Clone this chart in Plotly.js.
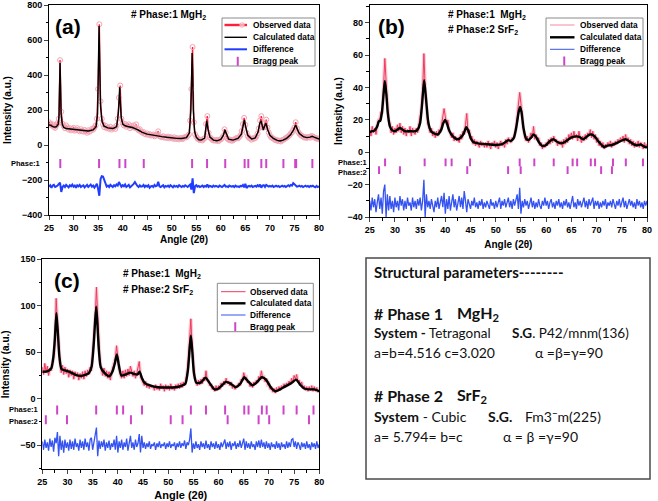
<!DOCTYPE html>
<html><head><meta charset="utf-8">
<script src="https://cdn.plot.ly/plotly-3.0.1.min.js"></script>
<style>html,body{margin:0;padding:0;background:#fff}</style>
</head><body><div id="chart" style="width:658px;height:501px"></div>
<script>
// ---------------- Panel (a): MgH2 ----------------
const calcA_x = [25,25.5,26,26.5,26.9,27.05,27.15,27.25,27.35,27.45,27.7,28,28.5,29,30,31,32,33,34,34.6,34.9,35.05,35.2,35.35,35.5,35.8,36.2,37,38,38.8,39.15,39.3,39.4,39.5,39.7,40,40.5,41,42,43,44,45,46,47,48,49,50,51,52,53,53.6,53.9,54.05,54.15,54.25,54.4,54.65,55,55.5,56,56.7,56.95,57.15,57.35,57.8,58.5,59.2,60,60.5,60.85,61.15,61.6,62.5,63.5,64.2,64.55,64.8,65.05,65.5,66.3,67,67.6,67.95,68.2,68.45,68.65,68.95,69.2,69.5,70,70.7,71.5,72.05,72.7,73.4,74.2,74.8,75.05,75.25,75.5,76,76.8,77.5,78.2,78.6,79,79.5,80];
const calcA_y = [116,108,102,104,118,170,330,470,330,180,118,100,94,92,88,86,82,80,86,105,180,380,680,420,220,135,108,98,94,105,190,270,330,260,160,120,110,106,100,88,72,62,56,52,48,44,40,38,37,42,70,200,380,525,420,200,80,45,30,28,40,90,138,95,45,28,24,32,55,86,60,33,28,38,62,110,143,105,55,34,40,75,125,137,105,86,110,124,90,55,38,26,23,28,38,58,85,105,114,95,65,48,42,45,50,45,38,34];
// observed & difference: 25 to 80 every 0.25 deg
const obsA = [130,122,112,118, 104,98,112,125, 150,485,190,122, 108,96,112,100, 88,96,84,92, 98,82,86,96, 84,78,90,80, 76,86,78,70, 84,76,82,92, 88,100,112,150, 320,690,250,150, 118,102,110,96, 100,92,104,88, 96,100,92,110, 150,270,340,150, 125,112,120,104, 110,118,96,108, 102,112,98,118, 92,84,90,76, 70,74,64,60, 66,58,62,54, 56,60,50,54, 60,78,50,48, 44,50,42,46, 40,48,38,44, 42,36,44,34, 40,36,32,40, 38,34,42,46, 44,52,60,140, 320,560,130,62, 48,36,32,28, 30,26,34,40, 120,165,70,44, 38,30,26,28, 24,30,22,28, 32,40,52,90, 70,40,32,28, 30,24,28,32, 36,40,38,46, 55,80,120,155, 115,70,50,40, 36,30,38,36, 40,48,66,95, 140,165,100,100, 125,145,100,72, 55,44,40,36, 30,26,28,22, 24,20,28,30, 34,40,44,50, 56,66,72,86, 100,130,95,75, 65,58,52,48, 42,46,40,44, 46,42,52,48, 44,40,36,38, 32];
const diffA = [-238,-230,-245,-232, -228,-240,-236,-232, -222,-215,-268,-240, -232,-240,-228,-236, -242,-230,-236,-226, -238,-232,-244,-230, -236,-228,-240,-234, -230,-242,-236,-228, -240,-234,-226,-238, -232,-244,-230,-222, -250,-290,-195,-178, -180,-200,-222,-238, -232,-240,-228,-236, -240,-230,-236,-226, -232,-212,-225,-238, -230,-236,-226,-240, -234,-228,-242,-236, -230,-222,-212,-226, -234,-240,-230,-238, -236,-228,-240,-232, -238,-230,-244,-236, -234,-240,-228,-236, -232,-210,-236,-240, -236,-230,-242,-234, -238,-232,-240,-230, -236,-242,-232,-238, -234,-240,-230,-236, -240,-234,-238,-230, -236,-240,-232,-226, -255,-190,-275,-236, -230,-238,-234,-240, -236,-232,-240,-234, -238,-225,-240,-234, -236,-240,-232,-238, -234,-238,-240,-232, -236,-240,-234,-228, -238,-236,-240,-232, -236,-238,-234,-240, -232,-238,-236,-240, -234,-236,-228,-242, -222,-246,-236,-234, -238,-232,-240,-236, -234,-238,-230,-236, -226,-244,-232,-230, -240,-228,-236,-238, -234,-238,-232,-240, -236,-232,-238,-234, -240,-236,-232,-238, -234,-240,-236,-230, -236,-228,-232,-218, -224,-230,-238,-236, -232,-238,-234,-240, -236,-232,-238,-234, -240,-234,-236,-232, -238,-242,-234,-240, -236];
const braggA1 = [27.3,35.2,39.35,40.55,44.3,54.15,57.2,60.9,64.85,65.6,68.25,69.25,72.75,75.15,75.35,78.65];

// ---------------- Panel (b): MgH2 + SrF2 ----------------
const calcB_x = [25,25.5,26,26.5,26.8,27.1,27.4,27.7,28,28.3,28.6,29,29.5,30,30.5,31,31.5,32,33,34,34.5,35,35.4,35.8,36.2,36.6,37,37.5,38.5,39.2,39.6,39.95,40.3,40.7,41.2,41.8,42.5,43.2,43.7,44.15,44.6,45,45.5,46.5,48,50,51.3,52,52.5,53,53.6,54.1,54.5,54.8,55.1,55.5,56,56.5,57,57.5,58,58.6,59.3,60,60.6,61.4,62.3,63,63.8,64.5,65.3,66,66.6,67.3,68,68.5,69,69.6,70.3,71,71.5,72,73,73.8,74.5,75.2,75.8,76.5,77.3,78,78.7,79.2,79.7,80];
const calcB_y = [12.5,13,13.5,16,19,19.5,24,34,44,36,24,16,13.5,13,14,15,14,13,13,13,14,18,30,44.5,32,19,14,12,11,14,18,20,18,14,11,9,8,9.5,12,15.5,13,9,6.5,5.5,5,4.5,5,6.5,7.5,7,9,16,24,28,25,15,8.5,7.5,9,11,9.5,6,3.8,4.5,6.5,8,6.2,5.5,6.5,8.2,9.5,9.8,9.5,8,9.5,10.8,11,9.8,7,4.5,3.2,4,4.5,5.5,6.5,7.5,8,6.8,5,4.2,4.8,4,3.2,3];
const obsB = [14,10,16,12, 15,11,17,20, 20,25,24,40, 58,44,26,20, 18,12,16,11, 15,12,17,13, 18,12,16,11, 15,10,14,12, 16,10,15,12, 11,15,12,17, 21,27,38,61, 40,30,18,16, 12,15,10,13, 9,13,10,14, 12,17,21,27, 22,17,20,13, 12,9,12,7, 10,7,9,6, 11,8,13,11, 17,24,12,14, 8,10,5,8, 4,7,5,3, 7,4,6,3, 6,3,7,4, 2,6,4,7, 3,6,2,5, 7,4,6,3, 8,5,9,7, 6,9,8,11, 14,22,29,37, 30,21,14,10, 7,10,6,9, 12,9,16,8, 11,7,9,4, 6,2,5,3, 6,4,8,5, 9,6,10,7, 8,4,7,5, 7,3,8,5, 9,6,11,8, 12,8,13,9, 11,7,13,9, 6,10,7,11, 8,12,10,14, 9,13,8,11, 6,9,4,7, 3,6,2,5, 3,6,4,7, 3,6,4,7, 5,8,6,9, 7,10,6,11, 7,9,5,8, 4,7,3,6, 4,7,3,6, 5,2,6,3, 5];
const diffB = [-30,-36,-28,-34, -29,-37,-31,-26, -35,-28,-38,-24, -20,-40,-26,-36, -27,-35,-30,-37, -28,-34,-30,-36, -27,-33,-29,-36, -30,-35,-28,-33, -31,-36,-28,-34, -30,-35,-29,-33, -28,-36,-30,-17, -40,-26,-34,-30, -35,-29,-33,-37, -30,-34,-28,-35, -31,-27,-34,-25, -38,-29,-35,-27, -36,-30,-26,-34, -29,-36,-31,-27, -34,-28,-35,-24, -30,-37,-29,-33, -35,-30,-33,-28, -34,-31,-35,-30, -33,-29,-35,-31, -34,-30,-32,-35, -29,-33,-31,-35, -30,-34,-31,-28, -35,-30,-33,-29, -34,-31,-28,-34, -30,-35,-29,-33, -30,-26,-35,-22, -38,-30,-34,-29, -33,-30,-35,-31, -28,-34,-30,-35, -31,-34,-29,-33, -35,-30,-33,-28, -33,-30,-35,-31, -29,-34,-31,-35, -30,-33,-29,-34, -31,-35,-30,-33, -29,-34,-31,-35, -30,-27,-34,-31, -35,-29,-33,-30, -34,-31,-28,-34, -30,-35,-29,-33, -31,-28,-35,-30, -33,-30,-35,-31, -34,-30,-33,-29, -35,-31,-33,-30, -34,-29,-32,-35, -30,-33,-29,-34, -31,-28,-34,-30, -35,-31,-29,-33, -30,-34,-31,-35, -29,-33,-30,-34, -31,-35,-30,-33, -30];
const braggB1 = [28.05,35.9,40.05,41.25,44.9,54.75,57.65,61.5,65.25,66.15,68.85,69.7,73.25,75.8,79.2];
const braggB2 = [26.85,31.0,44.35,52.45,54.95,64.25,70.9,73.05];

// ---------------- Panel (c): MgH2 + SrF2 ----------------
const calcC_x = [25,26,26.8,27.2,27.5,27.8,28.1,28.4,28.8,29.5,30.5,31.5,32.5,33.5,34.3,34.8,35.2,35.45,35.7,35.95,36.2,36.6,37.3,38.3,39,39.4,39.8,40.2,40.7,41.5,42.5,43.3,43.9,44.3,44.8,45.3,46.5,48,50,51.5,52.5,53.4,53.9,54.2,54.5,54.8,55.1,55.6,56.5,57.4,58.2,59.2,60,60.8,61.4,62.3,63.4,64.3,65.1,65.8,66.7,67.5,68.6,69.5,70.4,71.3,72.2,73.3,74.4,75.4,76.2,77,78,79,80];
const calcC_y = [29,29.5,33,45,65,92,70,45,32,30.5,28.5,26,24.5,25.5,28,35,58,80,99,80,55,34,28,24,30,38,47.5,36,25,26,28,26.5,26,29,22,17,14,12.3,12,12.3,13.5,16,30,50,68,50,28,17,17.5,22.5,17,10,11,15,18,16.5,12.3,16,23,19,14.5,17,23,20,12,8,10,13.5,16.5,20.5,15,11,10,10,8];
const obsC = [34,26,38,28, 35,25,33,30, 38,44,58,108, 82,55,40,28, 36,26,34,27, 32,23,31,25, 30,21,29,24, 28,20,27,22, 29,21,30,24, 31,26,34,30, 48,60,86,120, 82,58,38,32, 25,33,24,30, 22,29,20,28, 34,36,44,57, 40,32,26,22, 30,22,31,24, 32,25,35,28, 24,30,22,27, 32,40,24,20, 18,14,19,12, 16,11,15,12, 14,9,15,10, 13,9,16,11, 14,8,15,10, 14,9,16,10, 13,9,15,11, 16,11,17,12, 18,14,20,28, 42,62,86,55, 34,22,20,14, 20,15,21,16, 23,19,30,20, 19,14,16,10, 13,8,14,9, 14,10,17,13, 19,15,22,16, 19,14,18,11, 15,10,14,12, 17,14,21,19, 28,22,23,17, 19,13,17,12, 18,15,20,17, 24,21,30,22, 23,18,22,15, 16,10,13,7, 11,6,12,8, 13,9,14,11, 16,12,17,14, 19,15,22,17, 25,21,26,18, 20,14,18,11, 14,9,13,8, 13,9,14,8, 13,8,12,7, 10];
const diffC = [-46,-55,-44,-53, -47,-56,-43,-52, -45,-57,-42,-48, -36,-62,-40,-55, -45,-58,-44,-53, -47,-56,-44,-54, -46,-55,-43,-52, -48,-56,-44,-53, -46,-55,-43,-52, -47,-56,-44,-42, -55,-48,-38,-31, -62,-45,-54,-46, -52,-44,-56,-47, -53,-45,-55,-48, -52,-44,-55,-40, -58,-46,-53,-44, -55,-47,-52,-43, -56,-45,-40,-53, -47,-55,-44,-52, -48,-38,-58,-40, -53,-47,-54,-48, -52,-46,-54,-49, -51,-47,-55,-48, -52,-46,-53,-49, -51,-47,-54,-48, -52,-46,-53,-49, -51,-47,-55,-48, -52,-46,-53,-48, -51,-45,-54,-47, -50,-44,-32,-58, -48,-54,-46,-53, -49,-55,-46,-52, -48,-54,-45,-53, -49,-55,-46,-52, -48,-54,-46,-53, -49,-55,-47,-52, -48,-44,-54,-47, -52,-46,-55,-48, -51,-46,-54,-48, -52,-45,-53,-47, -43,-55,-46,-53, -48,-54,-46,-52, -49,-55,-46,-52, -45,-53,-44,-52, -47,-54,-46,-53, -48,-55,-47,-52, -49,-54,-46,-53, -48,-55,-47,-52, -49,-54,-46,-53, -47,-52,-44,-43, -52,-46,-54,-47, -50,-55,-47,-52, -48,-54,-46,-53, -49,-55,-47,-52, -48,-54,-46,-53, -49];
const braggC1 = [27.95,35.7,39.8,41.05,44.8,54.5,57.5,61.3,65.1,65.95,68.6,69.55,72.9,75.5,78.85];
const braggC2 = [25.7,29.9,42.6,50.5,52.85,61.8,67.95,70.05,77.95];

const legendLabels = ['Observed data','Calculated data','Difference','Bragg peak'];
const angleTitle = 'Angle (2θ)';
const intensityTitle = 'Intensity (a.u.)';

// ---------------- drawing ----------------
const W = 658, H = 501;
const px = v => v / W, py = v => 1 - v / H;
const FB = '"Liberation Sans", Arial, sans-serif';
const FL = 'Lato, "Open Sans", sans-serif';
const RED = '#ff1f3a', PINK = '#f3a3b3', BLUE = '#1f3cff', MAG = '#cf45c9';
const OBS = '#f03a5c', HALO = 'rgba(245,140,165,0.45)', DBLUE = '#3553f0';

function tickRow(xs, level, xa, ya, size) {
  return {x: xs, y: xs.map(() => level), xaxis: xa, yaxis: ya, mode: 'markers', hoverinfo: 'skip',
    marker: {symbol: 'line-ns', size: size, color: MAG, line: {color: MAG, width: 2}}};
}

const traces = [
  // (a)
  {y: obsA, x0: 25, dx: 0.25, xaxis: 'x', yaxis: 'y', mode: 'lines+markers',
   line: {color: RED, width: 1.4}, marker: {symbol: 'circle-open', size: 5, color: PINK, line: {width: 1, color: PINK}}},
  {x: calcA_x, y: calcA_y, xaxis: 'x', yaxis: 'y', mode: 'lines', line: {color: '#000', width: 1.4}},
  {y: diffA, x0: 25, dx: 0.25, xaxis: 'x', yaxis: 'y', mode: 'lines', line: {color: BLUE, width: 2}},
  tickRow(braggA1, -106, 'x', 'y', 6.5),
  // (b)
  {y: obsB, x0: 25, dx: 0.25, xaxis: 'x2', yaxis: 'y2', mode: 'lines', line: {color: HALO, width: 3.5}},
  {y: obsB, x0: 25, dx: 0.25, xaxis: 'x2', yaxis: 'y2', mode: 'lines', line: {color: OBS, width: 1}},
  {x: calcB_x, y: calcB_y, xaxis: 'x2', yaxis: 'y2', mode: 'lines', line: {color: '#000', width: 2.4, shape: 'spline', smoothing: 0.6}},
  {y: diffB, x0: 25, dx: 0.25, xaxis: 'x2', yaxis: 'y2', mode: 'lines', line: {color: DBLUE, width: 1.3}},
  tickRow(braggB1, -6.3, 'x2', 'y2', 5.5),
  tickRow(braggB2, -11, 'x2', 'y2', 5.5),
  // (c)
  {y: obsC, x0: 25, dx: 0.25, xaxis: 'x3', yaxis: 'y3', mode: 'lines', line: {color: HALO, width: 3.5}},
  {y: obsC, x0: 25, dx: 0.25, xaxis: 'x3', yaxis: 'y3', mode: 'lines', line: {color: OBS, width: 1}},
  {x: calcC_x, y: calcC_y, xaxis: 'x3', yaxis: 'y3', mode: 'lines', line: {color: '#000', width: 2.4, shape: 'spline', smoothing: 0.6}},
  {y: diffC, x0: 25, dx: 0.25, xaxis: 'x3', yaxis: 'y3', mode: 'lines', line: {color: DBLUE, width: 1.3}},
  tickRow(braggC1, -12.2, 'x3', 'y3', 6.5),
  tickRow(braggC2, -22.7, 'x3', 'y3', 6.5)
];

function xax(d0, d1, anchor, titleSize, standoff) {
  return {domain: [px(d0), px(d1)], anchor: anchor, range: [25, 80], dtick: 5, tick0: 25,
    showline: true, linecolor: '#000', linewidth: 1, mirror: true, ticks: 'outside', ticklen: 4, tickwidth: 1,
    minor: {dtick: 2.5, ticks: 'outside', ticklen: 2.5, tickcolor: '#000'},
    showgrid: false, zeroline: false, tickfont: {family: FB, size: 9, weight: 'bold', color: '#000'},
    title: {text: angleTitle, font: {family: FB, size: titleSize, weight: 'bold', color: '#000'}, standoff: standoff}};
}
function yax(d0, d1, anchor, range, dtick, minor, standoff) {
  return {domain: [py(d1), py(d0)], anchor: anchor, range: range, dtick: dtick, tick0: 0,
    showline: true, linecolor: '#000', linewidth: 1, mirror: true, ticks: 'outside', ticklen: 4, tickwidth: 1,
    minor: {dtick: minor, ticks: 'outside', ticklen: 2.5, tickcolor: '#000'},
    showgrid: false, zeroline: false, tickfont: {family: FB, size: 9, weight: 'bold', color: '#000'},
    title: {text: intensityTitle, font: {family: FB, size: 10, weight: 'bold', color: '#000'}, standoff: standoff}};
}

const shapes = [], annotations = [];
function txt(text, x, y, size, opts) {
  annotations.push(Object.assign({text: text, xref: 'paper', yref: 'paper', x: px(x), y: py(y),
    showarrow: false, xanchor: 'left', yanchor: 'middle',
    font: {family: FB, size: size, weight: 'bold', color: '#000'}}, opts || {}));
}
function legendBox(b) {
  shapes.push({type: 'rect', xref: 'paper', yref: 'paper', x0: px(b.x0), x1: px(b.x1), y0: py(b.y1), y1: py(b.y0),
    line: {color: '#8a8a8a', width: 1}, fillcolor: 'rgba(255,255,255,0)'});
  const r = b.rows;
  const ln = (y, color, w) => shapes.push({type: 'line', xref: 'paper', yref: 'paper', x0: px(b.s0), x1: px(b.s1),
    y0: py(y), y1: py(y), line: {color: color, width: w}});
  ln(r[0], b.obsColor, b.obsW);
  if (b.circle) {
    const cx = b.circle;
    shapes.push({type: 'circle', xref: 'paper', yref: 'paper', x0: px(cx - 2.2), x1: px(cx + 2.2), y0: py(r[0] + 2.2), y1: py(r[0] - 2.2),
      line: {color: PINK, width: 1}, fillcolor: 'rgba(255,255,255,0.6)'});
  }
  ln(r[1], '#000', b.calcW);
  ln(r[2], b.diffColor, b.diffW);
  const mx = (b.s0 + b.s1) / 2 + 2;
  shapes.push({type: 'line', xref: 'paper', yref: 'paper', x0: px(mx), x1: px(mx), y0: py(r[3] - 4.5), y1: py(r[3] + 4.5),
    line: {color: MAG, width: 2}});
  legendLabels.forEach((t, i) => txt(t, b.tx, r[i], 8.3));
}

// legends
legendBox({x0: 222, x1: 315, y0: 18, y1: 66, s0: 224.5, s1: 247, tx: 251, rows: [25, 37.3, 49.3, 61.3],
  obsColor: RED, obsW: 2.4, circle: 242, calcW: 1.4, diffColor: BLUE, diffW: 2});
legendBox({x0: 546, x1: 643, y0: 18, y1: 66, s0: 550, s1: 574.5, tx: 577.5, rows: [25, 37.3, 49.3, 61],
  obsColor: '#f28aa0', obsW: 1, calcW: 2.4, diffColor: DBLUE, diffW: 1});
legendBox({x0: 217.3, x1: 313.3, y0: 283.3, y1: 331.7, s0: 221, s1: 245.5, tx: 248, rows: [291.7, 303.3, 315, 326.7],
  obsColor: OBS, obsW: 1, calcW: 2.4, diffColor: DBLUE, diffW: 1});

// panel labels
txt('(a)', 68, 27, 21, {xanchor: 'center'});
txt('(b)', 391, 27, 21, {xanchor: 'center'});
txt('(c)', 67, 280, 21, {xanchor: 'center'});
// phase titles
txt('# Phase:1 MgH<sub>2</sub>', 168, 15, 10, {xanchor: 'center'});
txt('# Phase:1\u00a0\u00a0MgH<sub>2</sub>', 446, 15, 10);
txt('# Phase:2 SrF<sub>2</sub>', 446, 30, 10);
txt('# Phase:1\u00a0\u00a0MgH<sub>2</sub>', 121, 274, 10);
txt('# Phase:2 SrF<sub>2</sub>', 121, 290, 10);
// Bragg row labels
const pl = {xanchor: 'right'};
txt('Phase:1', 42, 163.5, 7.5, pl);
txt('Phase:1', 369, 162, 7.5, pl);
txt('Phase:2', 369, 172.7, 7.5, pl);
txt('Phase:1', 39.5, 409, 7.5, pl);
txt('Phase:2', 39.5, 421, 7.5, pl);

// structural parameters box
shapes.push({type: 'rect', xref: 'paper', yref: 'paper', x0: px(366), x1: px(650), y0: py(479), y1: py(258),
  line: {color: '#4a4a4a', width: 1.5}, fillcolor: 'rgba(255,255,255,0)'});
const bf = (s, w) => ({font: {family: FL, size: s, weight: w, color: '#111'}});
txt('Structural parameters--------', 372, 272, 15, bf(15, 'bold'));
txt('# Phase 1', 372, 313, 16, bf(16, 'bold'));
txt('MgH<sub>2</sub>', 455, 313, 16, bf(16, 'bold'));
txt('<b>System -</b> Tetragonal', 372, 333, 13.5, bf(13.5, 'normal'));
txt('<b>S.G</b>. P42/mnm(136)', 510, 333, 13.5, bf(13.5, 'normal'));
txt('a=b=4.516 c=3.020', 372, 352, 14, bf(14, 'normal'));
txt('α =β=γ=90', 533, 352, 14, bf(14, 'normal'));
txt('# Phase 2', 372, 395, 16, bf(16, 'bold'));
txt('SrF<sub>2</sub>', 455, 395, 16, bf(16, 'bold'));
txt('<b>System</b> - Cubic', 372, 416, 14, bf(14, 'normal'));
txt('<b>S.G.</b>', 486, 416, 14, bf(14, 'normal'));
txt('Fm3¯m(225)', 522.7, 416, 14, bf(14, 'normal'));
txt('a= 5.794= b=c', 372, 436, 14, bf(14, 'normal'));
txt('α = β =γ=90', 501, 436, 14, bf(14, 'normal'));

const layout = {
  width: W, height: H, margin: {l: 0, r: 0, t: 0, b: 0}, showlegend: false,
  paper_bgcolor: '#fff', plot_bgcolor: '#fff',
  xaxis: xax(49, 319, 'y', 10, 4),
  yaxis: yax(5, 215, 'x', [-400, 800], 200, 100, 8),
  xaxis2: xax(369.7, 647, 'y2', 10, 7),
  yaxis2: yax(5, 217, 'x2', [-40, 91], 20, 10, 3),
  xaxis3: xax(42.3, 319.3, 'y3', 11, 5),
  yaxis3: yax(259.3, 469.3, 'x3', [-76, 150], 50, 25, 9),
  shapes: shapes, annotations: annotations
};
Plotly.newPlot('chart', traces, layout, {staticPlot: true, displayModeBar: false});
</script></body></html>
